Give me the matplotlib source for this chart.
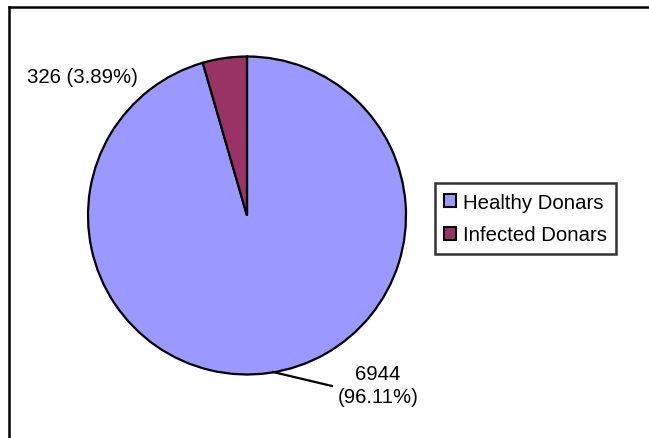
"""Pie chart of healthy vs infected blood donors."""
import matplotlib
matplotlib.use('Agg')
import matplotlib.pyplot as plt
from matplotlib.lines import Line2D
from matplotlib.patches import Patch

plt.rcParams['font.family'] = ['Liberation Sans', 'DejaVu Sans']

categories = ['Healthy Donars', 'Infected Donars']
counts = [6944, 326]
pct_labels = ['96.11%', '3.89%']
colors = ['#9999FF', '#993366']

W, H = 649, 439
fig = plt.figure(figsize=(W / 100, H / 100), dpi=100)

# chart area frame (left and top edges fall inside the canvas)
fig.add_artist(Line2D([8.5 / W, 8.5 / W], [-0.1, 1 - 7.5 / H], color='black', lw=1.8))
fig.add_artist(Line2D([8.5 / W, 1.1], [1 - 7.5 / H, 1 - 7.5 / H], color='black', lw=1.8))

cx, cy, r = 247, 216.5, 159
ax = fig.add_axes([(cx - r) / W, (H - cy - r) / H, 2 * r / W, 2 * r / H])
wedges, _ = ax.pie(counts, colors=colors, startangle=90, counterclock=False,
                   radius=1, wedgeprops=dict(edgecolor='black', linewidth=1.6))
ax.set_xlim(-1, 1)
ax.set_ylim(-1, 1)
ax.axis('off')


def px(x, y):
    return (x - cx) / r, (cy - y) / r


fs = 14.7
ax.text(*px(82.5, 78), '%d (%s)' % (counts[1], pct_labels[1]), fontsize=fs,
        ha='center', va='center', clip_on=False)
ax.text(*px(378, 386), '%d\n(%s)' % (counts[0], pct_labels[0]), fontsize=fs,
        ha='center', va='center', linespacing=1.3, clip_on=False)
x0, y0 = px(273, 373)
x1, y1 = px(332, 387)
ax.plot([x0, x1], [y0, y1], color='black', lw=1.6, clip_on=False)

handles = [Patch(facecolor=c, edgecolor='black', linewidth=1.5) for c in colors]
leg = fig.legend(handles, categories, loc='center left',
                 bbox_to_anchor=(435 / W, 1 - 219.5 / H), fontsize=fs,
                 frameon=True, fancybox=False, edgecolor='black',
                 handlelength=0.6, handleheight=0.6, handletextpad=0.3,
                 labelspacing=0.68, borderpad=0.45, borderaxespad=0)
leg.get_frame().set_linewidth(1.8)

fig.savefig('out.png', dpi=100)
